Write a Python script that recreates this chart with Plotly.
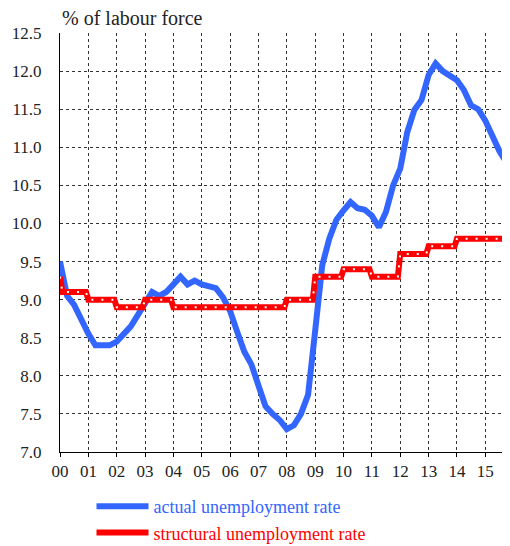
import plotly.graph_objects as go

# actual unemployment rate, quarterly readings (% of labour force)
actual_dates = [
    '2000-01-01', '2000-04-01', '2000-07-01', '2000-10-01',
    '2001-01-01', '2001-04-01', '2001-07-01', '2001-10-01',
    '2002-01-01', '2002-04-01', '2002-07-01', '2002-10-01',
    '2003-01-01', '2003-04-01', '2003-07-01', '2003-10-01',
    '2004-01-01', '2004-04-01', '2004-07-01', '2004-10-01',
    '2005-01-01', '2005-04-01', '2005-07-01', '2005-10-01',
    '2006-01-01', '2006-04-01', '2006-07-01', '2006-10-01',
    '2007-01-01', '2007-04-01', '2007-07-01', '2007-10-01',
    '2008-01-01', '2008-04-01', '2008-07-01', '2008-10-01',
    '2009-01-01', '2009-04-01', '2009-07-01', '2009-10-01',
    '2010-01-01', '2010-04-01', '2010-07-01', '2010-10-01',
    '2011-01-01', '2011-04-01', '2011-07-01', '2011-10-01',
    '2012-01-01', '2012-04-01', '2012-07-01', '2012-10-01',
    '2013-01-01', '2013-04-01', '2013-07-01', '2013-10-01',
    '2014-01-01', '2014-04-01', '2014-07-01', '2014-10-01',
    '2015-01-01', '2015-04-01', '2015-07-01', '2015-10-01',
]
actual_rate = [
    9.5, 9.05, 8.93, 8.72,
    8.55, 8.4, 8.4, 8.4,
    8.45, 8.55, 8.65, 8.8,
    8.95, 9.1, 9.05, 9.1,
    9.2, 9.3, 9.2, 9.25,
    9.2, 9.18, 9.15, 9.03,
    8.85, 8.58, 8.32, 8.15,
    7.88, 7.6, 7.5, 7.42,
    7.3, 7.35, 7.5, 7.75,
    8.6, 9.45, 9.8, 10.05,
    10.17, 10.28, 10.2, 10.18,
    10.1, 9.95, 10.15, 10.5,
    10.72, 11.2, 11.49, 11.62,
    11.95, 12.1, 12.0, 11.95,
    11.88, 11.75, 11.55, 11.5,
    11.35, 11.15, 10.95, 10.8,
]

# structural unemployment rate, constant within each year
struct_dates = [
    '2000-01-01', '2000-02-01', '2000-12-01',
    '2001-01-01', '2001-12-01', '2002-01-01', '2002-12-01',
    '2003-01-01', '2003-12-01', '2004-01-01', '2007-12-01',
    '2008-01-01', '2008-12-01', '2009-01-01', '2009-12-01',
    '2010-01-01', '2010-12-01', '2011-01-01', '2011-12-01',
    '2012-01-01', '2012-12-01', '2013-01-01', '2013-12-01',
    '2014-01-01', '2015-11-15',
]
struct_rate = [
    9.3, 9.1, 9.1,
    9.0, 9.0, 8.9, 8.9,
    9.0, 9.0, 8.9, 8.9,
    9.0, 9.0, 9.3, 9.3,
    9.4, 9.4, 9.3, 9.3,
    9.6, 9.6, 9.7, 9.7,
    9.8, 9.8,
]

year_ticks = ['%d-01-01' % y for y in range(2000, 2016)]
year_labels = ['%02d' % (y % 100) for y in range(2000, 2016)]

BLUE = '#3366ff'
RED = '#ff0000'
FONT = 'Liberation Serif'
INK = '#222222'

fig = go.Figure()

fig.add_trace(go.Scatter(
    x=actual_dates, y=actual_rate, mode='lines',
    line=dict(color=BLUE, width=6),
    name="<span style='color:%s'>actual unemployment rate</span>" % BLUE))

fig.add_trace(go.Scatter(
    x=struct_dates, y=struct_rate, mode='lines',
    line=dict(color=RED, width=6),
    name="<span style='color:%s'>structural unemployment rate</span>" % RED))

# white dots inside the red line
fig.add_trace(go.Scatter(
    x=struct_dates, y=struct_rate, mode='lines',
    line=dict(color='white', width=2, dash='2px,8px'),
    showlegend=False, hoverinfo='skip'))

# page body has an 8px margin, so margins are shifted to compensate
fig.update_layout(
    width=510, height=546,
    margin=dict(l=52, r=8, t=25, b=102),
    plot_bgcolor='white', paper_bgcolor='white',
    font=dict(family=FONT, size=17, color=INK),
    legend=dict(x=0.07, xref='paper', y=0.121, yref='container',
                xanchor='left', yanchor='top',
                font=dict(family=FONT, size=18, color=INK), itemwidth=52,
                bgcolor='rgba(0,0,0,0)'),
    annotations=[dict(text='% of labour force', x=0, y=1, xref='paper', yref='paper',
                      xanchor='left', yanchor='bottom', yshift=2, showarrow=False,
                      font=dict(size=20, family=FONT, color=INK))],
)

fig.update_xaxes(
    range=['2000-01-01', '2015-11-15'], automargin=False,
    tickvals=year_ticks, ticktext=year_labels,
    showline=True, linecolor='black', linewidth=1,
    ticks='outside', ticklen=4, tickcolor='black',
    showgrid=True, gridcolor='#333333', griddash='dot', gridwidth=1,
    tickfont=dict(family=FONT, size=17, color=INK),
)
fig.update_yaxes(
    range=[7.0, 12.5], dtick=0.5, tickformat='.1f', automargin=False,
    showline=True, linecolor='black', linewidth=1,
    showgrid=True, gridcolor='#333333', griddash='dot', gridwidth=1,
    zeroline=False, ticklabelstandoff=14,
    tickfont=dict(family=FONT, size=17, color=INK),
)

fig.write_html("out.html")
